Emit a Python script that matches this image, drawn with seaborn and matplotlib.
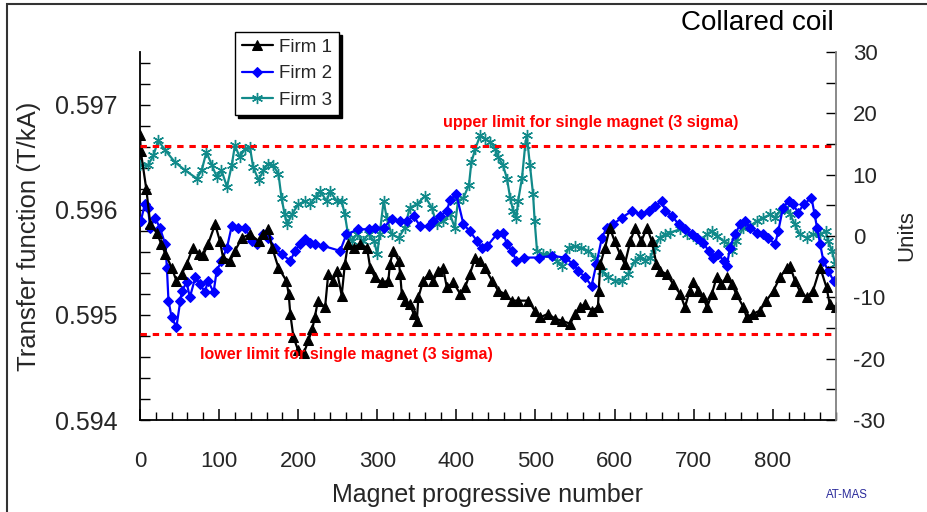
import matplotlib
matplotlib.use("Agg")
import matplotlib.pyplot as plt
from matplotlib.patches import Rectangle
from matplotlib.ticker import MultipleLocator
import seaborn as sns
import pandas as pd

# ---------------- data ----------------
firm1_x = [0, 1, 8, 13, 21, 27, 32, 40, 46, 53, 59, 67, 74, 80, 86, 95, 101, 105, 114, 120,
           129, 139, 150, 156, 162, 167, 175, 185, 188, 190, 194, 200, 207, 213, 218, 221, 225,
           234, 238, 244, 249, 255, 259, 263, 270, 278, 287, 291, 297, 306, 314, 316, 320, 327,
           329, 331, 335, 341, 346, 350, 352, 358, 365, 371, 377, 383, 388, 396, 405, 411, 417,
           424, 430, 436, 445, 453, 461, 470, 478, 491, 499, 506, 516, 525, 533, 544, 550, 556,
           563, 571, 579, 580, 582, 588, 594, 600, 607, 613, 620, 626, 634, 641, 647, 653, 657,
           666, 674, 683, 689, 695, 699, 706, 712, 717, 723, 729, 735, 742, 748, 754, 763, 767,
           775, 784, 792, 801, 809, 818, 822, 828, 834, 843, 851, 860, 868, 872, 880]
firm1_y = [0.596715, 0.596554, 0.596195, 0.595864, 0.595781, 0.595675, 0.595580, 0.595450,
           0.595325, 0.595391, 0.595485, 0.595640, 0.595580, 0.595570, 0.595672, 0.595861,
           0.595703, 0.595545, 0.595514, 0.595608, 0.595734, 0.595766, 0.595703, 0.595766,
           0.595814, 0.595640, 0.595450, 0.595325, 0.595199, 0.595010, 0.594788, 0.594662,
           0.594634, 0.594757, 0.594870, 0.594977, 0.595135, 0.595072, 0.595388, 0.595325,
           0.595419, 0.595183, 0.595482, 0.595672, 0.595640, 0.595672, 0.595640, 0.595450,
           0.595356, 0.595308, 0.595325, 0.595482, 0.595608, 0.595514, 0.595388, 0.595199,
           0.595135, 0.595104, 0.595010, 0.594946, 0.595167, 0.595325, 0.595388, 0.595325,
           0.595419, 0.595450, 0.595261, 0.595308, 0.595199, 0.595261, 0.595388, 0.595545,
           0.595514, 0.595450, 0.595325, 0.595230, 0.595200, 0.595135, 0.595135, 0.595135,
           0.595041, 0.594977, 0.595010, 0.594962, 0.594946, 0.594915, 0.595010, 0.595072,
           0.595104, 0.595041, 0.595072, 0.595230, 0.595482, 0.595640, 0.595829, 0.595703,
           0.595577, 0.595482, 0.595703, 0.595829, 0.595703, 0.595829, 0.595703, 0.595482,
           0.595419, 0.595388, 0.595293, 0.595199, 0.595072, 0.595230, 0.595308, 0.595230,
           0.595167, 0.595072, 0.595199, 0.595356, 0.595293, 0.595356, 0.595293, 0.595199,
           0.595072, 0.594977, 0.595010, 0.595041, 0.595135, 0.595230, 0.595356, 0.595450,
           0.595466, 0.595325, 0.595230, 0.595167, 0.595230, 0.595450, 0.595261, 0.595104,
           0.595072]

firm2_x = [1, 6, 10, 13, 19, 25, 32, 34, 36, 40, 46, 51, 53, 59, 63, 70, 76, 82, 86, 93, 97,
           103, 110, 116, 124, 133, 141, 148, 156, 162, 171, 179, 190, 196, 202, 209, 215, 221,
           232, 253, 261, 276, 289, 297, 308, 318, 329, 337, 346, 354, 365, 371, 379, 388, 392,
           400, 409, 417, 426, 432, 439, 451, 459, 464, 470, 476, 485, 504, 521, 537, 548, 554,
           563, 571, 577, 584, 590, 598, 609, 622, 634, 643, 651, 660, 664, 673, 681, 689, 698,
           704, 712, 719, 725, 731, 738, 742, 746, 752, 759, 765, 771, 780, 788, 794, 803, 807,
           813, 820, 826, 832, 839, 849, 853, 856, 860, 864, 870, 877]
firm2_y = [0.595892, 0.596050, 0.596019, 0.595829, 0.595924, 0.595829, 0.595672, 0.595450,
           0.595135, 0.594977, 0.594883, 0.595135, 0.595230, 0.595308, 0.595167, 0.595356,
           0.595293, 0.595215, 0.595325, 0.595215, 0.595419, 0.595514, 0.595640, 0.595845,
           0.595829, 0.595829, 0.595703, 0.595672, 0.595766, 0.595734, 0.595640, 0.595577,
           0.595514, 0.595608, 0.595672, 0.595719, 0.595687, 0.595672, 0.595656, 0.595608,
           0.595766, 0.595814, 0.595814, 0.595829, 0.595829, 0.595908, 0.595892, 0.595892,
           0.595939, 0.595845, 0.595845, 0.595892, 0.595939, 0.595987, 0.596097, 0.596145,
           0.595860, 0.595797, 0.595703, 0.595640, 0.595655, 0.595766, 0.595782, 0.595672,
           0.595608, 0.595514, 0.595545, 0.595545, 0.595561, 0.595545, 0.595482, 0.595419,
           0.595356, 0.595277, 0.595482, 0.595734, 0.595829, 0.595860, 0.595924, 0.595987,
           0.595955, 0.595987, 0.596034, 0.596081, 0.595987, 0.595939, 0.595860, 0.595814,
           0.595766, 0.595734, 0.595687, 0.595608, 0.595545, 0.595577, 0.595514, 0.595466,
           0.595640, 0.595766, 0.595860, 0.595892, 0.595829, 0.595782, 0.595766, 0.595734,
           0.595672, 0.595797, 0.596019, 0.596081, 0.596050, 0.595971, 0.596050, 0.596113,
           0.595955, 0.595829, 0.595672, 0.595514, 0.595419, 0.595325]

firm3_x = [0, 10, 17, 23, 32, 44, 57, 72, 78, 84, 91, 97, 103, 110, 116, 120, 126, 133, 139,
           143, 150, 156, 162, 168, 175, 179, 183, 186, 192, 200, 209, 215, 222, 228, 236, 240,
           249, 255, 259, 263, 268, 274, 282, 289, 296, 300, 303, 308, 312, 318, 327, 335, 341,
           350, 360, 369, 375, 383, 392, 398, 402, 409, 416, 419, 424, 430, 436, 443, 449, 453,
           459, 464, 468, 472, 476, 478, 483, 487, 489, 493, 497, 499, 502, 510, 518, 527, 533,
           542, 550, 558, 567, 575, 584, 592, 601, 609, 617, 626, 632, 639, 645, 651, 657, 664,
           670, 683, 692, 699, 708, 717, 723, 729, 738, 744, 748, 754, 763, 771, 780, 788, 797,
           803, 809, 816, 822, 828, 834, 843, 851, 860, 867, 870, 875, 879]
firm3_y = [0.596422, 0.596422, 0.596517, 0.596659, 0.596564, 0.596454, 0.596375, 0.596296,
           0.596375, 0.596549, 0.596422, 0.596312, 0.596375, 0.596218, 0.596422, 0.596612,
           0.596501, 0.596580, 0.596596, 0.596407, 0.596281, 0.596375, 0.596438, 0.596422,
           0.596344, 0.596107, 0.595955, 0.595860, 0.595955, 0.596050, 0.596081, 0.596050,
           0.596120, 0.596176, 0.596081, 0.596176, 0.596081, 0.596081, 0.595955, 0.595766,
           0.595703, 0.595766, 0.595703, 0.595766, 0.595703, 0.595577, 0.595766, 0.596081,
           0.595924, 0.595766, 0.595734, 0.595829, 0.596020, 0.596050, 0.596129, 0.596020,
           0.595860, 0.595892, 0.595955, 0.595829, 0.596081, 0.596113, 0.596239, 0.596454,
           0.596580, 0.596706, 0.596675, 0.596643, 0.596580, 0.596501, 0.596422, 0.596296,
           0.596113, 0.595987, 0.595924, 0.596081, 0.596302, 0.596612, 0.596706, 0.596422,
           0.596145, 0.595892, 0.595608, 0.595577, 0.595577, 0.595514, 0.595466, 0.595640,
           0.595656, 0.595640, 0.595608, 0.595545, 0.595419, 0.595356, 0.595325, 0.595325,
           0.595388, 0.595514, 0.595561, 0.595514, 0.595545, 0.595640, 0.595734, 0.595766,
           0.595782, 0.595814, 0.595766, 0.595750, 0.595703, 0.595766, 0.595797, 0.595750,
           0.595703, 0.595672, 0.595608, 0.595703, 0.595829, 0.595845, 0.595892, 0.595924,
           0.595955, 0.595924, 0.595987, 0.596020, 0.595955, 0.595860, 0.595766, 0.595734,
           0.595766, 0.595766, 0.595797, 0.595703, 0.595608, 0.595482]

upper_limit = 0.59661
lower_limit = 0.59482
x_ticks = [0, 100, 200, 300, 400, 500, 600, 700, 800]
left_ticks = [0.594, 0.595, 0.596, 0.597]
right_ticks = [-30, -20, -10, 0, 10, 20, 30]

# ---------------- style ----------------
sns.set_theme(style="white")
plt.rcParams["font.family"] = ["Liberation Sans", "DejaVu Sans"]
plt.rcParams["axes.unicode_minus"] = False

fig = plt.figure(figsize=(9.28, 5.12), dpi=100)
fig.patch.set_facecolor("white")
ax = fig.add_axes([140 / 928, 1 - 420 / 512, 696 / 928, 368 / 512])

black = "#000000"
blue = "#0000FF"
teal = "#118a8a"

d3 = pd.DataFrame({"x": firm3_x, "y": firm3_y})
d2 = pd.DataFrame({"x": firm2_x, "y": firm2_y})
d1 = pd.DataFrame({"x": firm1_x, "y": firm1_y})

sns.lineplot(data=d3, x="x", y="y", ax=ax, color=teal, marker=(6, 2, 0), markersize=8,
             markeredgecolor=teal, markeredgewidth=1.0, linewidth=1.6, estimator=None,
             sort=False, label="Firm 3", zorder=3)
sns.lineplot(data=d2, x="x", y="y", ax=ax, color=blue, marker="D", markersize=5,
             markeredgecolor=blue, linewidth=1.6, estimator=None, sort=False,
             label="Firm 2", zorder=4)
sns.lineplot(data=d1, x="x", y="y", ax=ax, color=black, marker="^", markersize=6.5,
             markeredgecolor=black, linewidth=1.6, estimator=None, sort=False,
             label="Firm 1", zorder=5)

for lim in (upper_limit, lower_limit):
    ax.axhline(lim, color="#FF0000", lw=2.2, ls=(0, (2.1, 1.9)), zorder=6)

ax.set_xlim(0, 880)
ax.set_ylim(0.594, 0.5975)
ax.set_xticks(x_ticks)
ax.xaxis.set_minor_locator(MultipleLocator(20))
ax.set_yticks(left_ticks)
ax.yaxis.set_minor_locator(MultipleLocator(0.0002))
ax.set_yticklabels([f"{v:.3f}" for v in left_ticks])

for s in ("top", "right"):
    ax.spines[s].set_visible(False)
for s in ("left", "bottom"):
    ax.spines[s].set_color("black")
    ax.spines[s].set_linewidth(1.3)

ax.tick_params(axis="x", which="major", direction="in", length=8, width=1.1,
               color="black", labelsize=16, pad=22, bottom=True)
ax.tick_params(axis="x", which="minor", direction="in", length=6, width=1.0,
               color="black", bottom=True)
ax.tick_params(axis="y", which="major", direction="in", length=7, width=1.0,
               color="black", labelsize=18, pad=16, left=True)
ax.tick_params(axis="y", which="minor", direction="in", length=7, width=1.0,
               color="black", left=True)

ax.set_xlabel("Magnet progressive number", fontsize=18, labelpad=8)
ax.set_ylabel("Transfer function (T/kA)", fontsize=18.5, labelpad=10)

ax2 = ax.twinx()
ax2.set_ylim(-30, 30)
ax2.set_yticks(right_ticks)
ax2.yaxis.set_minor_locator(MultipleLocator(5))
for s in ("top", "left", "bottom"):
    ax2.spines[s].set_visible(False)
ax2.spines["right"].set_color("#808080")
ax2.spines["right"].set_linewidth(1.3)
ax2.tick_params(axis="y", which="major", direction="in", length=7, width=1.0,
                color="black", labelsize=16, pad=12, right=True)
ax2.tick_params(axis="y", which="minor", direction="in", length=7, width=1.0,
                color="black", right=True)
ax2.set_ylabel("Units", fontsize=16, labelpad=8)
ax2.grid(False)
ax.grid(False)

handles, labels = ax.get_legend_handles_labels()
order = [labels.index(n) for n in ("Firm 1", "Firm 2", "Firm 3")]
if ax.get_legend() is not None:
    ax.get_legend().remove()
leg = ax2.legend([handles[i] for i in order], [labels[i] for i in order],
                 loc="upper left", bbox_to_anchor=((235 - 140) / 696, (420 - 32) / 368),
                 fontsize=13.5, frameon=True, fancybox=False, edgecolor="black",
                 framealpha=1, handlelength=1.7, handletextpad=0.3, labelspacing=0.5,
                 borderpad=0.35, borderaxespad=0,
                 shadow={"facecolor": "black", "edgecolor": "black", "alpha": 1})
leg.get_frame().set_linewidth(1.0)
leg.set_zorder(10)

fig.text(591 / 928, 1 - 122 / 512, "upper limit for single magnet (3 sigma)",
         fontsize=11.5, fontweight="bold", color="#FF0000", ha="center", va="center")
fig.text(346 / 928, 1 - 355 / 512, "lower limit for single magnet (3 sigma)",
         fontsize=11.5, fontweight="bold", color="#FF0000", ha="center", va="center")
fig.text(834 / 928, 1 - 23 / 512, "Collared coil", fontsize=20, ha="right", va="center",
         color="black")
fig.text(847 / 928, 1 - 495 / 512, "AT-MAS", fontsize=8.3, ha="center", va="center",
         color="#2b2b9b")

fig.patches.append(Rectangle((7 / 928, -0.1), 1.2, 1.1 - 4 / 512, transform=fig.transFigure,
                             fill=False, edgecolor="#333333", lw=1.5))

fig.savefig("out.png", dpi=100, facecolor="white")
